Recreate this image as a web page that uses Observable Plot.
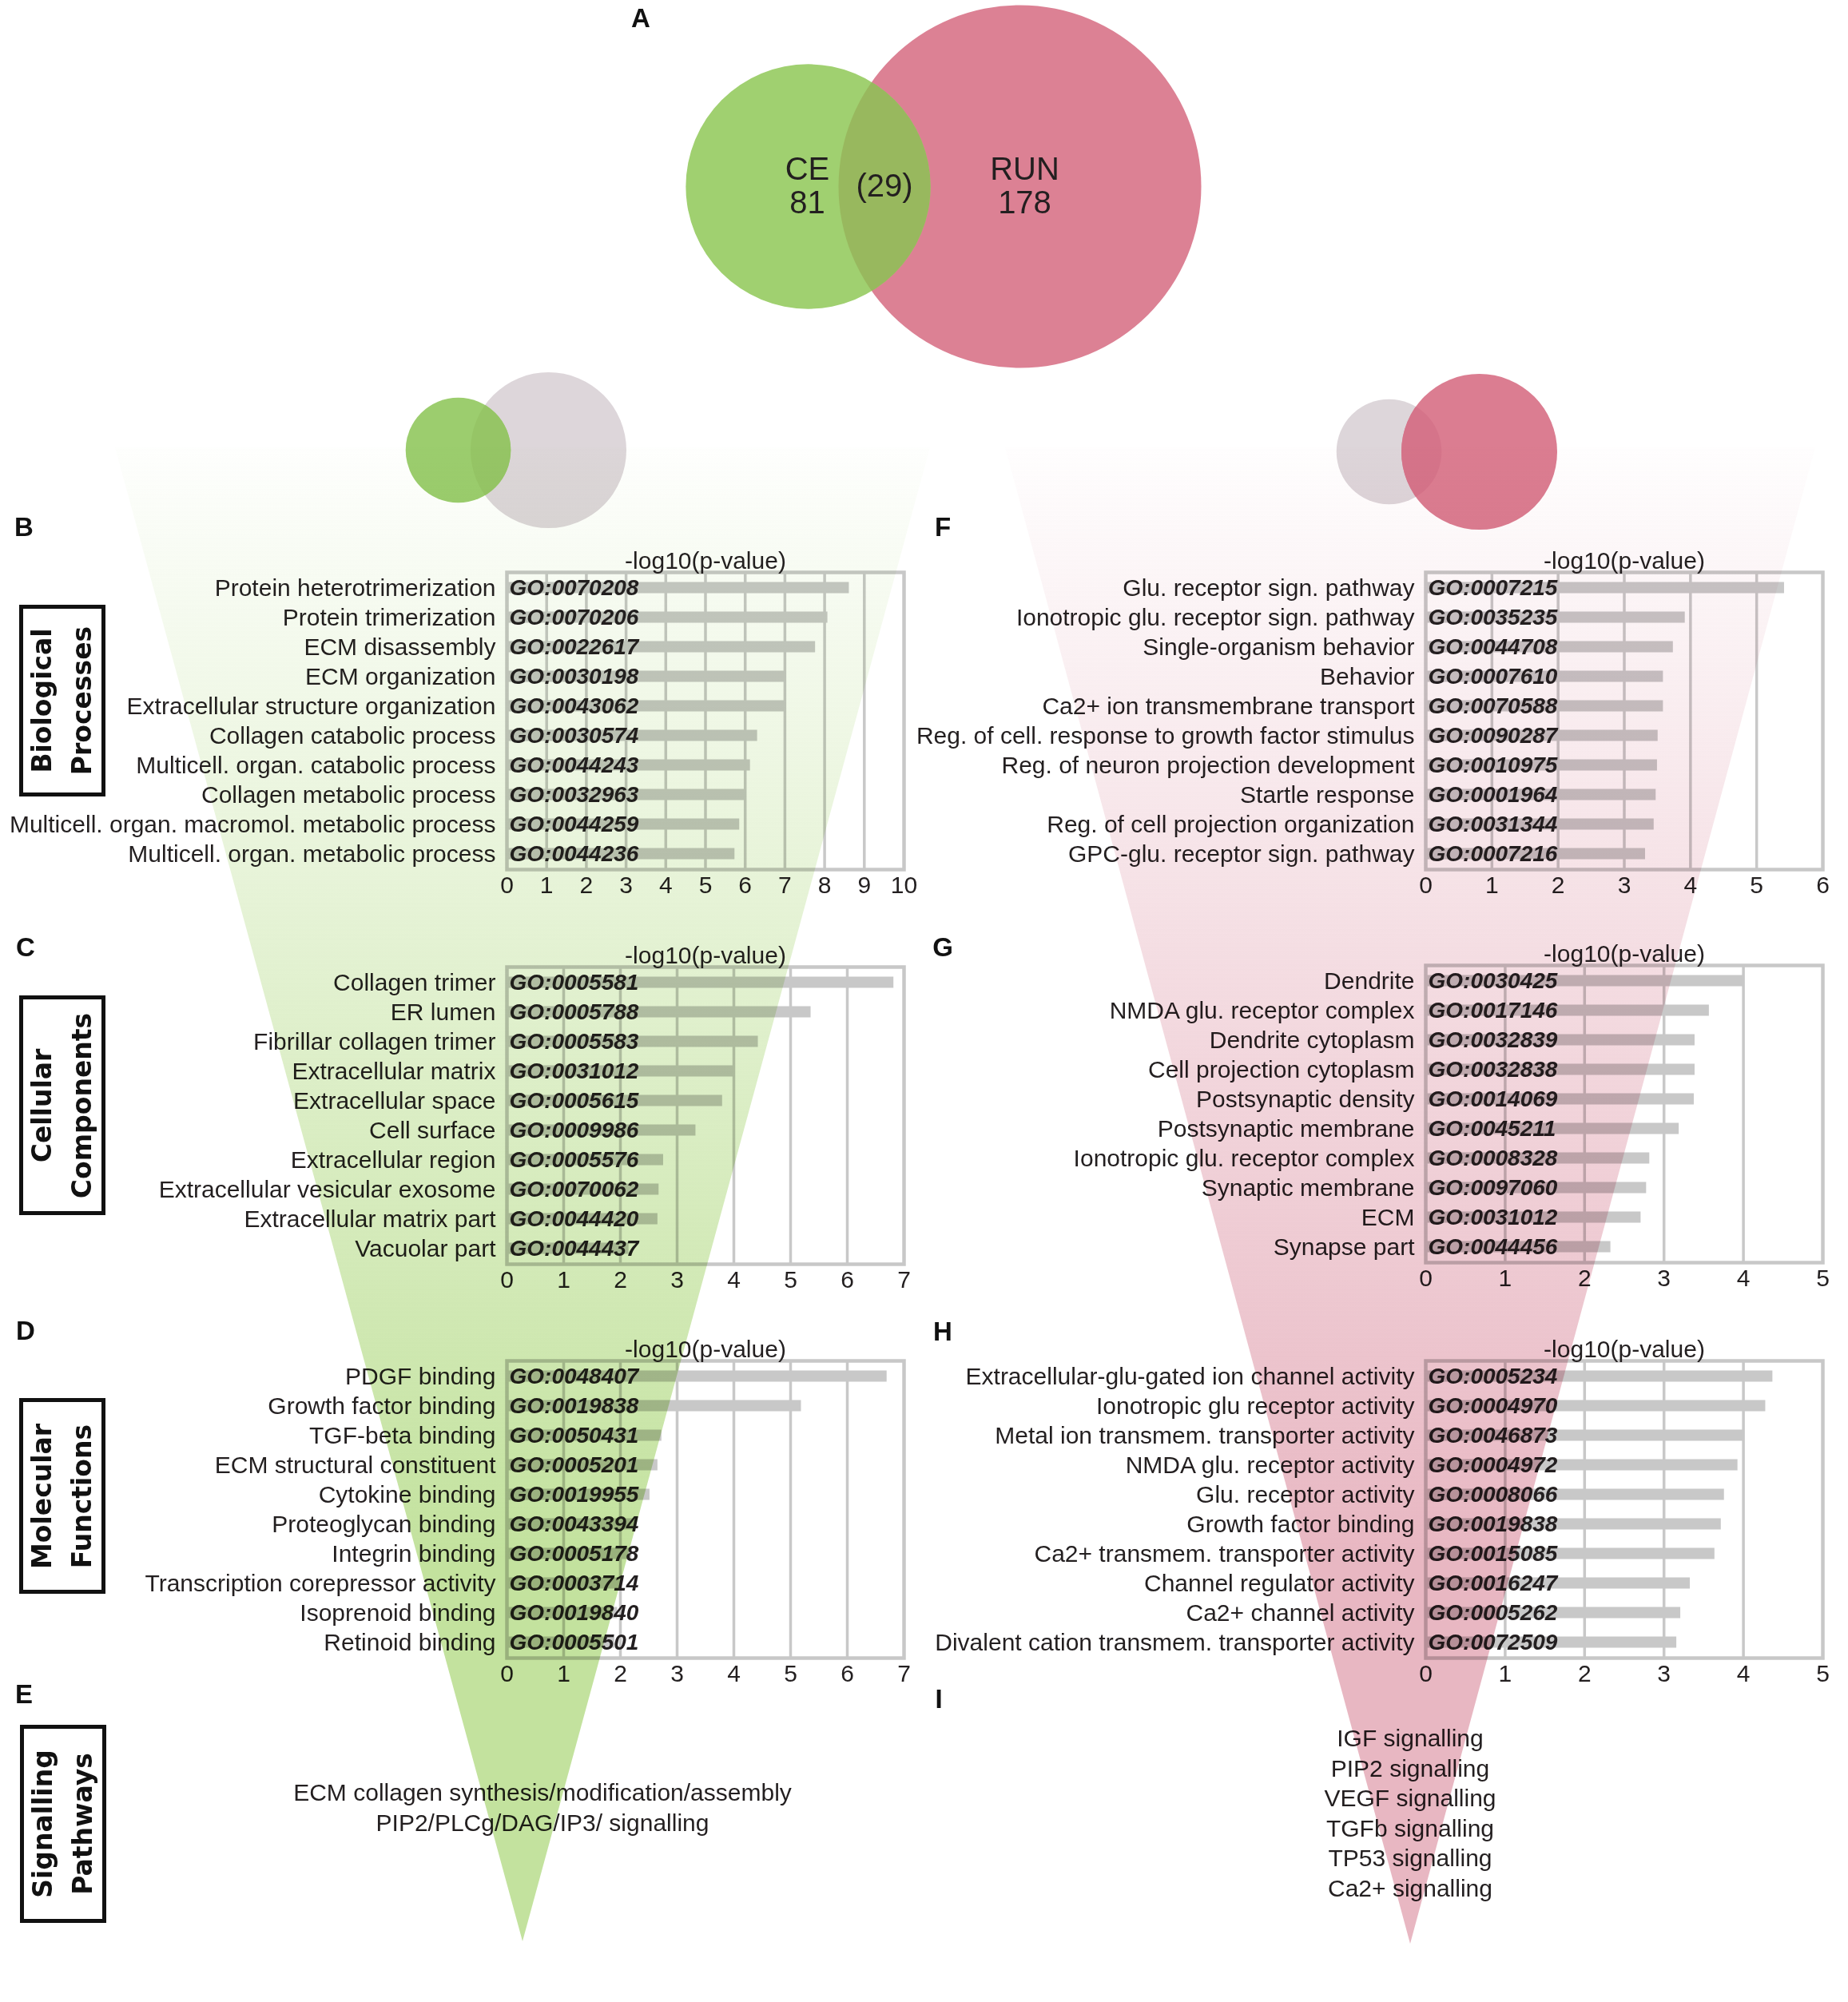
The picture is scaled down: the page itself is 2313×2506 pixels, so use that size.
<!DOCTYPE html>
<html>
<head>
<meta charset="utf-8">
<script src="https://cdn.jsdelivr.net/npm/d3@7"></script>
<script src="https://cdn.jsdelivr.net/npm/@observablehq/plot@0.6"></script>
<style>
html, body { margin: 0; padding: 0; background: #fff; }
#page { position: relative; width: 2313px; height: 2506px; overflow: hidden; background: #fff;
  font-family: "Liberation Sans", Arial, Helvetica, sans-serif; color: #231f20; }
.letter { position: absolute; font-family: "Liberation Sans", Arial, sans-serif; font-weight: bold;
  font-size: 33px; line-height: 1; transform: translate(-50%, -50%); color: #111; }
.catbox { position: absolute; box-sizing: border-box; border: 5px solid #111; display: flex;
  align-items: center; justify-content: center; background: #fff; }
.catbox .inner { transform: rotate(-90deg); white-space: nowrap; text-align: center;
  font-family: "DejaVu Sans", Verdana, sans-serif; font-weight: bold; font-size: 33px; line-height: 50px; color: #111; }
.pathways { position: absolute; transform: translateX(-50%); text-align: center; white-space: nowrap;
  font-size: 30px; line-height: 37.5px; color: #231f20; }
</style>
</head>
<body>
<div id="page"></div>
<script>
// ---------------- DATA ----------------
const vennSets = ["CE", "RUN"];
const vennCounts = [81, 178];
const vennShared = 29;

const bpTerms = ["Protein heterotrimerization", "Protein trimerization", "ECM disassembly", "ECM organization",
  "Extracellular structure organization", "Collagen catabolic process", "Multicell. organ. catabolic process",
  "Collagen metabolic process", "Multicell. organ. macromol. metabolic process", "Multicell. organ. metabolic process"];
const bpGO = ["GO:0070208", "GO:0070206", "GO:0022617", "GO:0030198", "GO:0043062", "GO:0030574", "GO:0044243",
  "GO:0032963", "GO:0044259", "GO:0044236"];
const bpValues = [8.62, 8.08, 7.77, 7.04, 7.02, 6.31, 6.13, 6.01, 5.86, 5.74];

const ccTerms = ["Collagen trimer", "ER lumen", "Fibrillar collagen trimer", "Extracellular matrix", "Extracellular space",
  "Cell surface", "Extracellular region", "Extracellular vesicular exosome", "Extracellular matrix part", "Vacuolar part"];
const ccGO = ["GO:0005581", "GO:0005788", "GO:0005583", "GO:0031012", "GO:0005615", "GO:0009986", "GO:0005576",
  "GO:0070062", "GO:0044420", "GO:0044437"];
const ccValues = [6.82, 5.36, 4.43, 4.01, 3.80, 3.33, 2.76, 2.68, 2.66, 2.15];

const mfTerms = ["PDGF binding", "Growth factor binding", "TGF-beta binding", "ECM structural constituent", "Cytokine binding",
  "Proteoglycan binding", "Integrin binding", "Transcription corepressor activity", "Isoprenoid binding", "Retinoid binding"];
const mfGO = ["GO:0048407", "GO:0019838", "GO:0050431", "GO:0005201", "GO:0019955", "GO:0043394", "GO:0005178",
  "GO:0003714", "GO:0019840", "GO:0005501"];
const mfValues = [6.70, 5.19, 2.73, 2.66, 2.52, 2.25, 2.20, 2.00, 1.95, 1.90];

const runBpTerms = ["Glu. receptor sign. pathway", "Ionotropic glu. receptor sign. pathway", "Single-organism behavior",
  "Behavior", "Ca2+ ion transmembrane transport", "Reg. of cell. response to growth factor stimulus",
  "Reg. of neuron projection development", "Startle response", "Reg. of cell projection organization",
  "GPC-glu. receptor sign. pathway"];
const runBpGO = ["GO:0007215", "GO:0035235", "GO:0044708", "GO:0007610", "GO:0070588", "GO:0090287", "GO:0010975",
  "GO:0001964", "GO:0031344", "GO:0007216"];
const runBpValues = [5.42, 3.92, 3.74, 3.59, 3.59, 3.51, 3.50, 3.48, 3.45, 3.32];

const runCcTerms = ["Dendrite", "NMDA glu. receptor complex", "Dendrite cytoplasm", "Cell projection cytoplasm",
  "Postsynaptic density", "Postsynaptic membrane", "Ionotropic glu. receptor complex", "Synaptic membrane", "ECM",
  "Synapse part"];
const runCcGO = ["GO:0030425", "GO:0017146", "GO:0032839", "GO:0032838", "GO:0014069", "GO:0045211", "GO:0008328",
  "GO:0097060", "GO:0031012", "GO:0044456"];
const runCcValues = [4.00, 3.57, 3.39, 3.39, 3.38, 3.19, 2.82, 2.78, 2.71, 2.33];

const runMfTerms = ["Extracellular-glu-gated ion channel activity", "Ionotropic glu receptor activity",
  "Metal ion transmem. transporter activity", "NMDA glu. receptor activity", "Glu. receptor activity",
  "Growth factor binding", "Ca2+ transmem. transporter activity", "Channel regulator activity", "Ca2+ channel activity",
  "Divalent cation transmem. transporter activity"];
const runMfGO = ["GO:0005234", "GO:0004970", "GO:0046873", "GO:0004972", "GO:0008066", "GO:0019838", "GO:0015085",
  "GO:0016247", "GO:0005262", "GO:0072509"];
const runMfValues = [4.37, 4.28, 4.00, 3.93, 3.76, 3.72, 3.64, 3.33, 3.21, 3.16];

const cePathways = ["ECM collagen synthesis/modification/assembly", "PIP2/PLCg/DAG/IP3/ signalling"];
const runPathways = ["IGF signalling", "PIP2 signalling", "VEGF signalling", "TGFb signalling", "TP53 signalling", "Ca2+ signalling"];

const categoryNames = [["Biological", "Processes"], ["Cellular", "Components"], ["Molecular", "Functions"], ["Signalling", "Pathways"]];
const axisTitle = "-log10(p-value)";

// ---------------- LAYOUT / STYLE ----------------
const W = 2313, H = 2506;
const textColor = "#231f20";
const fontFamily = '"Liberation Sans", Arial, Helvetica, sans-serif';
const page = document.getElementById("page");
const colors = {
  ceBig: "#a0d070", runBig: "#dc8194", lensBig: "#98b85e",
  ceSmall: "#9ccd6e", runSmall: "#db7d91", gray: "#ddd6da", lensGreen: "#96c566", lensPink: "#d5748a",
  bar: "#c8c8c8", grid: "#c8c8c8", triGreen: "#c3e29e", triPink: "#e8b7c2"
};

function place(el, left, top) {
  el.style.position = "absolute";
  el.style.left = left + "px";
  el.style.top = top + "px";
  page.appendChild(el);
  return el;
}

// ---------------- BAR PANELS ----------------
const frameW = 497, frameH = 372;
function barPanel(terms, goIds, values, xMax, frameLeft, frameTop, svgLeft) {
  const mTop = 70, mBottom = 60, mRight = 40;
  const mLeft = frameLeft - svgLeft;
  const rows = terms.map((t, i) => ({term: t, go: goIds[i], value: values[i]}));
  const svg = Plot.plot({
    width: mLeft + frameW + mRight,
    height: mTop + frameH + mBottom,
    marginLeft: mLeft, marginRight: mRight, marginTop: mTop, marginBottom: mBottom,
    style: {background: "transparent", fontFamily, color: textColor, overflow: "visible"},
    x: {domain: [0, xMax]},
    y: {domain: terms, padding: 0},
    marks: [
      Plot.gridX({ticks: d3.range(1, xMax), stroke: colors.grid, strokeOpacity: 1, strokeWidth: 3.5}),
      Plot.barX(rows, {x: "value", y: "term", fill: colors.bar, insetTop: 11.5, insetBottom: 11.5}),
      Plot.frame({stroke: colors.grid, strokeWidth: 4.5}),
      Plot.text(rows, {x: 0, y: "term", text: "go", textAnchor: "start", dx: 3, fontSize: 28,
        fontWeight: "bold", fontStyle: "italic", fill: textColor}),
      Plot.axisY({tickSize: 0, tickPadding: 14, fontSize: 30, label: null}),
      Plot.axisX({ticks: d3.range(0, xMax + 1), tickSize: 0, tickPadding: 8, fontSize: 30, label: null,
        tickFormat: d => String(d)}),
      Plot.text([axisTitle], {text: d => d, frameAnchor: "top", lineAnchor: "middle", dy: -14, fontSize: 30, fill: textColor})
    ]
  });
  place(svg, svgLeft, frameTop - mTop);
}

barPanel(bpTerms, bpGO, bpValues, 10, 634, 716, 0);
barPanel(ccTerms, ccGO, ccValues, 7, 634, 1210, 0);
barPanel(mfTerms, mfGO, mfValues, 7, 634, 1703, 0);
barPanel(runBpTerms, runBpGO, runBpValues, 6, 1784, 716, 1160);
barPanel(runCcTerms, runCcGO, runCcValues, 5, 1784, 1208, 1160);
barPanel(runMfTerms, runMfGO, runMfValues, 5, 1784, 1703, 1160);

// ---------------- VENN DIAGRAMS ----------------
let clipId = 0;
function vennPlot(circles, lenses, rMax, labels) {
  const marks = [
    Plot.dot(circles, {x: "cx", y: "cy", r: "count", fill: "color", sort: null}),
    Plot.dot(lenses, {x: "cx", y: "cy", r: "count", fill: "color", sort: null})
  ];
  if (labels) marks.push(Plot.text(labels, {x: "x", y: "y", text: "text", fontSize: 40, lineHeight: 1.05, fill: textColor}));
  const svg = Plot.plot({
    width: W, height: 700, margin: 0,
    style: {background: "transparent", fontFamily, overflow: "visible"},
    x: {type: "identity", axis: null}, y: {type: "identity", axis: null},
    r: {type: "sqrt", domain: [0, d3.max(vennCounts)], range: [0, rMax]},
    color: {type: "identity"},
    marks
  });
  const groups = svg.querySelectorAll('g[aria-label="dot"]');
  const base = groups[0].querySelectorAll("circle");
  const lensEls = groups[1].querySelectorAll("circle");
  const defs = d3.select(svg).append("defs");
  lenses.forEach((l, i) => {
    const c = base[l.clipIndex];
    const id = "vennclip" + (clipId++);
    const cc = defs.append("clipPath").attr("id", id).append("circle")
      .attr("cx", c.getAttribute("cx")).attr("cy", c.getAttribute("cy")).attr("r", c.getAttribute("r"));
    if (c.getAttribute("transform")) cc.attr("transform", c.getAttribute("transform"));
    lensEls[i].setAttribute("clip-path", `url(#${id})`);
  });
  place(svg, 0, 0);
  return svg;
}

// big Venn (panel A)
const big = {cxCE: 1011, cxRUN: 1276, cy: 233, rMax: 227};
const bigCircles = [
  {set: vennSets[1], count: vennCounts[1], cx: big.cxRUN, cy: big.cy, color: colors.runBig},
  {set: vennSets[0], count: vennCounts[0], cx: big.cxCE, cy: big.cy, color: colors.ceBig}
];
const bigLens = [{count: vennCounts[0], cx: big.cxCE, cy: big.cy, color: colors.lensBig, clipIndex: 0}];
const rBig = c => big.rMax * Math.sqrt(c / d3.max(vennCounts));
const lensMid = ((big.cxRUN - rBig(vennCounts[1])) + (big.cxCE + rBig(vennCounts[0]))) / 2;
const bigLabels = [
  {text: `${vennSets[0]}\n${vennCounts[0]}`, x: big.cxCE - 1, y: big.cy - 1},
  {text: `(${vennShared})`, x: lensMid, y: big.cy - 1},
  {text: `${vennSets[1]}\n${vennCounts[1]}`, x: big.cxRUN + 6, y: big.cy - 1}
];
vennPlot(bigCircles, bigLens, big.rMax, bigLabels);

// small Venns above the two funnels
const small = [{cxCE: 573, cxRUN: 686, cy: 563}, {cxCE: 1738, cxRUN: 1851, cy: 565}];
const smallCircles = [
  {set: "RUN", count: vennCounts[1], cx: small[0].cxRUN, cy: small[0].cy, color: colors.gray},
  {set: "CE", count: vennCounts[0], cx: small[0].cxCE, cy: small[0].cy, color: colors.ceSmall},
  {set: "CE", count: vennCounts[0], cx: small[1].cxCE, cy: small[1].cy, color: colors.gray},
  {set: "RUN", count: vennCounts[1], cx: small[1].cxRUN, cy: small[1].cy, color: colors.runSmall}
];
const smallLens = [
  {count: vennCounts[0], cx: small[0].cxCE, cy: small[0].cy, color: colors.lensGreen, clipIndex: 0},
  {count: vennCounts[0], cx: small[1].cxCE, cy: small[1].cy, color: colors.lensPink, clipIndex: 3}
];
vennPlot(smallCircles, smallLens, 97.5, null);

// ---------------- TEXT: letters, category boxes, pathways ----------------
const letters = [["A", 802, 22], ["B", 30, 659], ["C", 32, 1185], ["D", 32, 1665], ["E", 30, 2120],
  ["F", 1180, 659], ["G", 1180, 1185], ["H", 1180, 1666], ["I", 1175, 2126]];
letters.forEach(([t, x, y]) => {
  const d = document.createElement("div");
  d.className = "letter"; d.textContent = t;
  place(d, x, y);
});

const boxes = [[24, 757, 108, 240], [24, 1246, 108, 275], [24, 1750, 108, 245], [25, 2159, 108, 248]];
boxes.forEach(([x, y, w, h], i) => {
  const b = document.createElement("div");
  b.className = "catbox";
  b.style.width = w + "px"; b.style.height = h + "px";
  const inner = document.createElement("div");
  inner.className = "inner";
  categoryNames[i].forEach(line => {
    const s = document.createElement("div"); s.textContent = line; inner.appendChild(s);
  });
  b.appendChild(inner);
  place(b, x, y);
});

function pathwayBlock(lines, cx, firstCenterY) {
  const d = document.createElement("div");
  d.className = "pathways";
  lines.forEach(l => { const s = document.createElement("div"); s.textContent = l; d.appendChild(s); });
  place(d, cx, firstCenterY - 18.75);
}
pathwayBlock(cePathways, 679, 2244);
pathwayBlock(runPathways, 1765, 2176);

// ---------------- FUNNEL OVERLAY (multiply) ----------------
const funnels = [
  {id: "gradGreen", apexX: 654, apexY: 2430, topY: 560, half: 510, color: colors.triGreen, full: 1950},
  {id: "gradPink", apexX: 1765, apexY: 2433, topY: 560, half: 507, color: colors.triPink, full: 1950}
];
const overlay = Plot.plot({
  width: W, height: H, margin: 0,
  style: {background: "transparent", overflow: "visible"},
  x: {type: "identity", axis: null}, y: {type: "identity", axis: null},
  marks: funnels.map(f => Plot.areaY(
    [{x: f.apexX - f.half, y2: f.topY}, {x: f.apexX, y2: f.apexY}, {x: f.apexX + f.half, y2: f.topY}],
    {x: "x", y1: f.topY, y2: "y2", fill: `url(#${f.id})`, curve: "linear"}))
});
const odefs = d3.select(overlay).append("defs");
funnels.forEach(f => {
  const g = odefs.append("linearGradient").attr("id", f.id).attr("gradientUnits", "userSpaceOnUse")
    .attr("x1", 0).attr("x2", 0).attr("y1", f.topY).attr("y2", f.full);
  g.append("stop").attr("offset", 0).attr("stop-color", f.color).attr("stop-opacity", 0.02);
  g.append("stop").attr("offset", 1).attr("stop-color", f.color).attr("stop-opacity", 1);
});
overlay.style.mixBlendMode = "multiply";
overlay.style.pointerEvents = "none";
place(overlay, 0, 0);
</script>
</body>
</html>
